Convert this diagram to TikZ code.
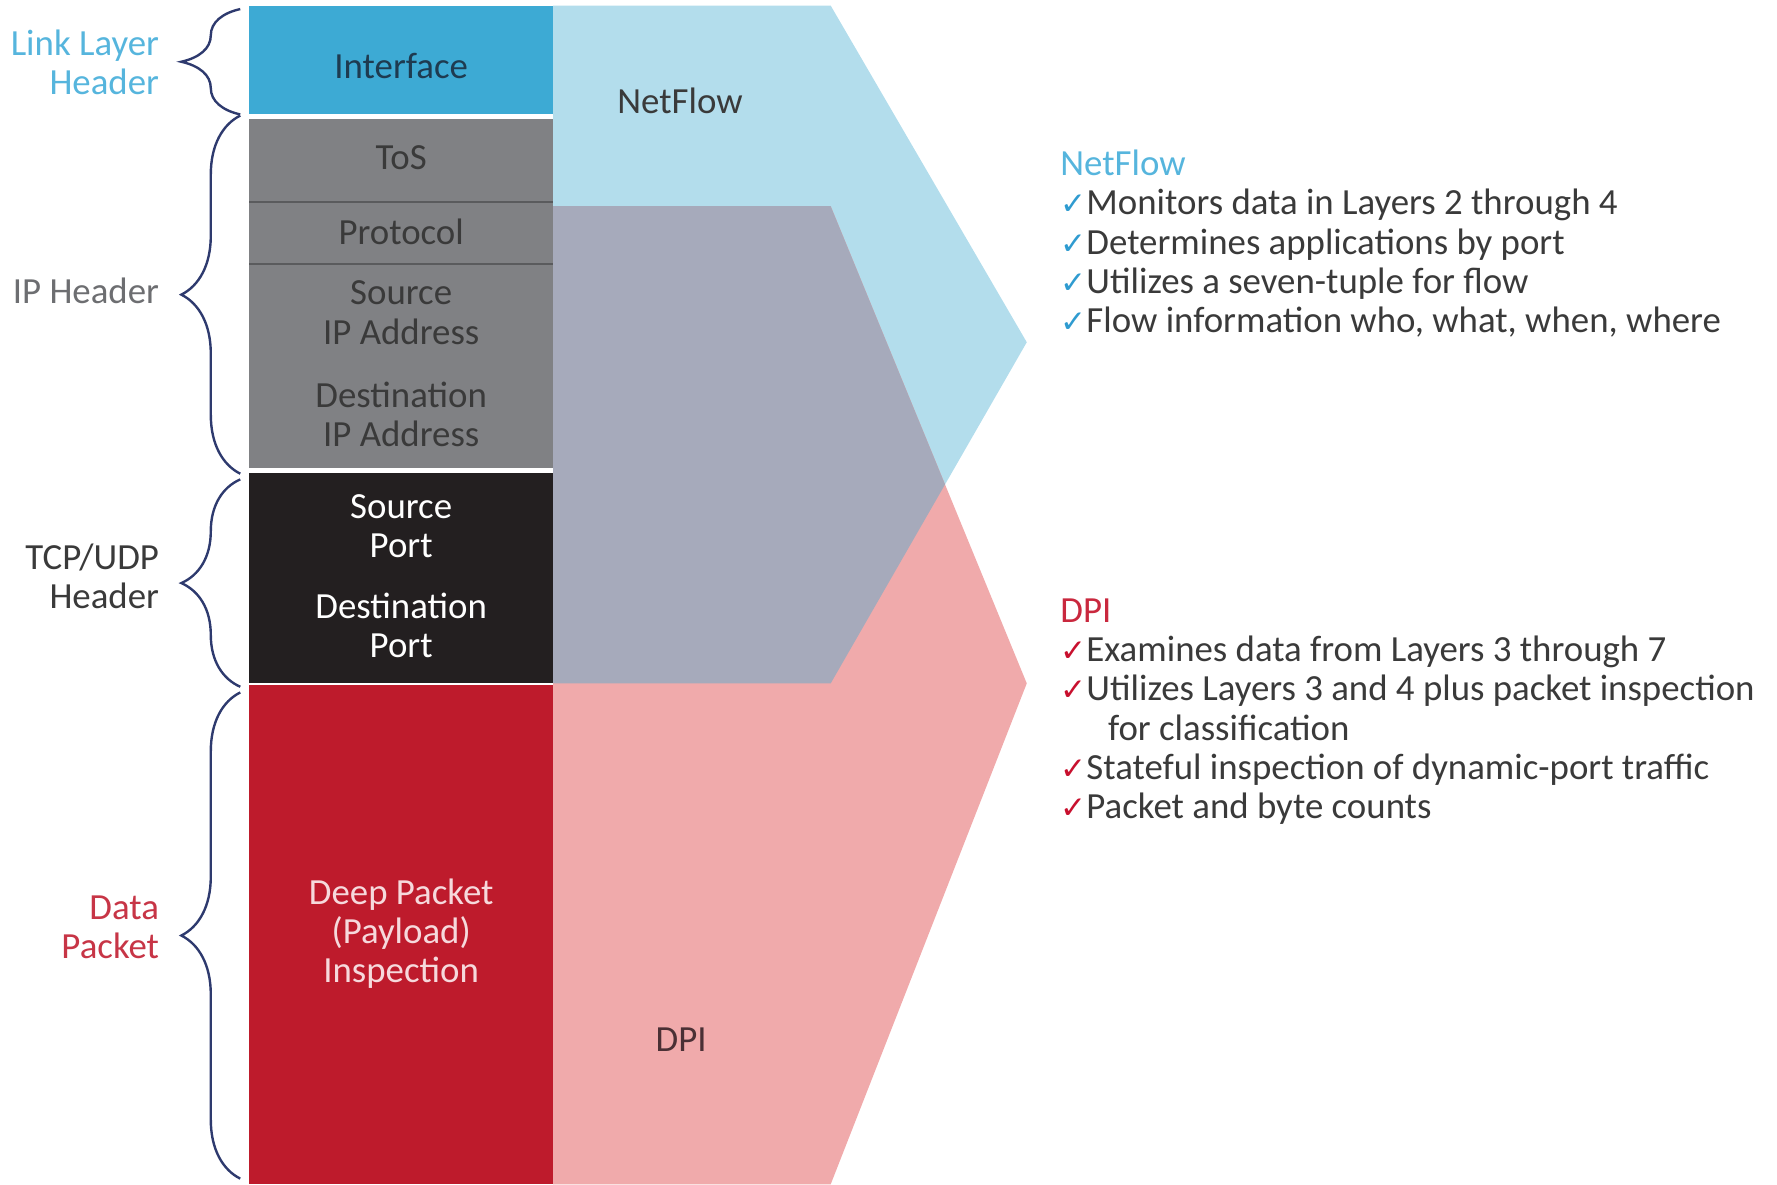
\documentclass[tikz,border=0pt]{standalone}
\usepackage{fontspec}
\setmainfont{Carlito}
\newfontfamily\ckfont{DejaVu Sans}
\usetikzlibrary{decorations.pathreplacing}
\definecolor{ifblue}{HTML}{3DAAD4}
\definecolor{ipgray}{HTML}{808184}
\definecolor{sepgray}{HTML}{5A5B5D}
\definecolor{portblack}{HTML}{231F20}
\definecolor{datared}{HTML}{BE1B2C}
\definecolor{nfblue}{HTML}{B3DDEC}
\definecolor{dpipink}{HTML}{F0AAAB}
\definecolor{mixgray}{HTML}{A6AABB}
\definecolor{bracenavy}{HTML}{2E3A6E}
\definecolor{txtgray}{HTML}{3A3A3A}
\definecolor{headblue}{HTML}{56B5DD}
\definecolor{headred}{HTML}{C9283E}
\definecolor{chkblue}{HTML}{2F9BD0}
\definecolor{chkred}{HTML}{C8102E}
\definecolor{ifnavy}{HTML}{1E3B50}
\definecolor{dpiwhite}{HTML}{F6D9DC}
\definecolor{iplabel}{HTML}{6D6E71}
\definecolor{datalabel}{HTML}{C73546}
\definecolor{dpilabel}{HTML}{4A3035}
\newcommand{\chk}[1]{{\color{#1}\ckfont\fontsize{7.8}{9.85}\selectfont ✓}}

\begin{document}
\begin{tikzpicture}[font=\fontsize{9.25}{9.85}\selectfont,
  lbl/.style={anchor=east,align=right,inner sep=0pt},
  cell/.style={align=center,inner sep=0pt},
  brc/.style={draw=bracenavy,line width=0.6pt,decorate,decoration={brace,amplitude=0.52cm}},
  list/.style={anchor=west,align=left,inner sep=0pt,text=txtgray}]
\useasboundingbox (0,0) rectangle (15.68,10.45);
\coordinate (nfA) at (4.88,10.40); \coordinate (nfB) at (7.33,10.40); \coordinate (nfTip) at (9.06,7.43); \coordinate (nfC) at (7.33,4.42); \coordinate (nfD) at (4.88,4.42);
\coordinate (dpA) at (4.88,8.63); \coordinate (dpB) at (7.33,8.63); \coordinate (dpTip) at (9.06,4.42); \coordinate (dpC) at (7.33,0); \coordinate (dpD) at (4.88,0);
\fill[nfblue] (nfA)--(nfB)--(nfTip)--(nfC)--(nfD)--cycle;
\fill[dpipink] (dpA)--(dpB)--(dpTip)--(dpC)--(dpD)--cycle;
\fill[mixgray] (dpA)--(dpB)--(intersection of dpB--dpTip and nfTip--nfC)--(nfC)--(nfD)--cycle;
\fill[ifblue] (2.20,9.44) rectangle (4.88,10.40);
\fill[ipgray] (2.20,6.32) rectangle (4.88,9.40);
\draw[sepgray,line width=0.6pt] (2.20,8.67)--(4.88,8.67) (2.20,8.12)--(4.88,8.12);
\fill[portblack] (2.20,4.42) rectangle (4.88,6.28);
\fill[datared] (2.20,0) rectangle (4.88,4.41);
\node[cell,text=ifnavy] (iface) at (3.54,9.87) {Interface};
\node[cell,text=txtgray] (tos) at (3.54,9.06) {ToS};
\node[cell,text=txtgray] (proto) at (3.54,8.40) {Protocol};
\node[cell,text=txtgray] (srcip) at (3.54,7.69) {Source\\IP Address};
\node[cell,text=txtgray] (dstip) at (3.54,6.795) {Destination\\IP Address};
\node[cell,text=white] (srcport) at (3.54,5.81) {Source\\Port};
\node[cell,text=white] (dstport) at (3.54,4.93) {Destination\\Port};
\node[cell,text=dpiwhite] (payload) at (3.54,2.21) {Deep Packet\\(Payload)\\Inspection};
\node[cell,text=txtgray] (nfname) at (6.00,9.56) {NetFlow};
\node[cell,text=dpilabel] (dpiname) at (6.01,1.28) {DPI};
\node[lbl,text=headblue] (linkhdr) at (1.41,9.90) {Link Layer\\Header};
\node[lbl,text=iplabel] (iphdr) at (1.41,7.88) {IP Header};
\node[lbl,text=txtgray] (tcphdr) at (1.41,5.365) {TCP/UDP\\Header};
\node[lbl,text=datalabel] (datahdr) at (1.41,2.27) {Data\\Packet};
\draw[brc] (2.12,9.44)--(2.12,10.37);
\draw[brc] (2.12,6.27)--(2.12,9.43);
\draw[brc] (2.12,4.39)--(2.12,6.22);
\draw[brc] (2.12,0.05)--(2.12,4.34);
\node[list] (nflist) at (9.35,8.30) {{\color{headblue}NetFlow}\\\chk{chkblue}Monitors data in Layers 2 through 4\\\chk{chkblue}Determines applications by port\\\chk{chkblue}Utilizes a seven-tuple for flow\\\chk{chkblue}Flow information who, what, when, where};
\node[list] (dpilist) at (9.35,4.17) {{\color{headred}DPI}\\\chk{chkred}Examines data from Layers 3 through 7\\\chk{chkred}Utilizes Layers 3 and 4 plus packet inspection\\\hspace*{0.42cm}for classification\\\chk{chkred}Stateful inspection of dynamic-port traffic\\\chk{chkred}Packet and byte counts};
\end{tikzpicture}
\end{document}
